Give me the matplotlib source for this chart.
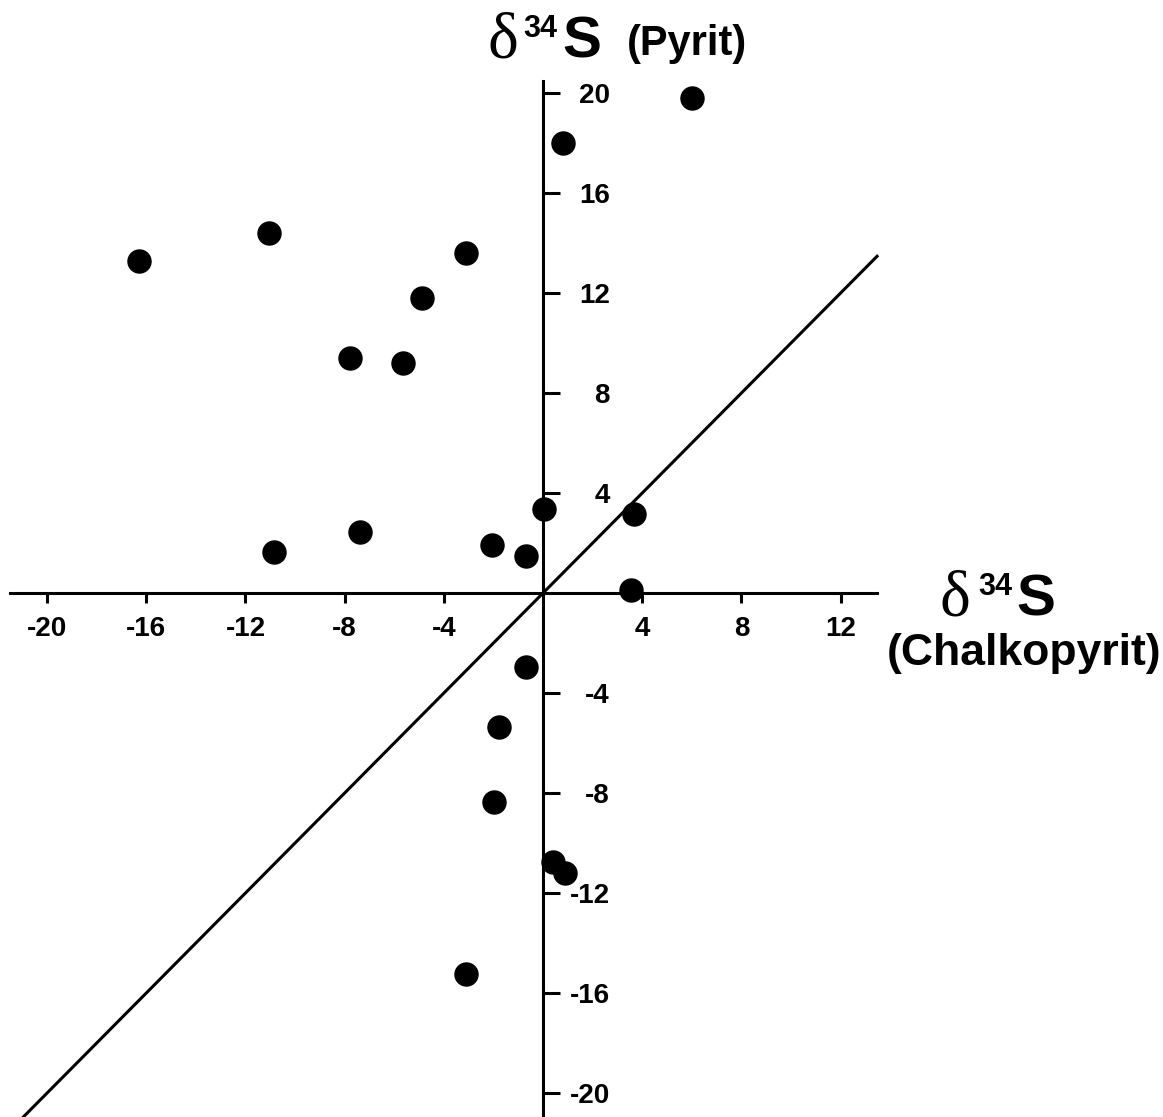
"""δ34S Pyrit gegen Chalkopyrit - Streudiagramm"""
import matplotlib
matplotlib.use('Agg')
import matplotlib.pyplot as plt

plt.rcParams['font.family'] = ['Liberation Sans', 'DejaVu Sans']

# Messwerte (δ34S Chalkopyrit, δ34S Pyrit)
chalkopyrit = [6.0, 0.8, -16.3, -11.05, -3.1, -4.9, -7.8, -5.65, 0.05, 3.67, -10.85,
               -7.4, -2.06, -0.7, 3.55, -0.7, -1.77, -1.98, 0.4, 0.9, -3.1]
pyrit = [19.8, 18.0, 13.3, 14.4, 13.6, 11.8, 9.4, 9.2, 3.36, 3.16, 1.64,
         2.44, 1.92, 1.48, 0.12, -2.96, -5.36, -8.36, -10.76, -11.2, -15.24]

x_ticks = [-20, -16, -12, -8, -4, 4, 8, 12]
y_ticks = [-20, -16, -12, -8, -4, 4, 8, 12, 16, 20]

W, H = 1163, 1117
fig = plt.figure(figsize=(W / 100, H / 100), dpi=100)
ax = fig.add_axes([0, 0, 1, 1])
ax.set_xlim(-21.9, 25.0)
ax.set_ylim(-20.96, 23.72)

# Achsen durch den Nullpunkt
ax.spines['left'].set_visible(False)
ax.spines['top'].set_visible(False)
ax.spines['right'].set_position(('data', 0))
ax.spines['bottom'].set_position(('data', 0))
ax.spines['right'].set_bounds(-21, 20.5)
ax.spines['bottom'].set_bounds(-21.5, 13.47)
for s in ('right', 'bottom'):
    ax.spines[s].set_linewidth(2.2)
ax.yaxis.tick_right()
ax.set_xticks(x_ticks)
ax.set_yticks(y_ticks)
ax.set_xticklabels([str(v) for v in x_ticks])
ax.set_yticklabels([str(v) for v in y_ticks])
ax.tick_params(axis='x', direction='out', length=7.5, width=2.2, pad=9,
               labelsize=20)
ax.tick_params(axis='y', direction='out', length=12, width=2.2, pad=36,
               labelsize=20)
for lbl in ax.get_xticklabels() + ax.get_yticklabels():
    lbl.set_fontweight('bold')
for lbl in ax.get_yticklabels():
    lbl.set_horizontalalignment('right')

# 1:1-Linie
diag = [-22, 13.47]
ax.plot(diag, diag, color='black', linewidth=2.2, clip_on=True)

ax.scatter(chalkopyrit, pyrit, s=275, color='black', zorder=3, clip_on=False)


def fig_text(px, py, s, **kw):
    fig.text(px / W, 1 - py / H, s, ha='left', va='baseline', **kw)


serif = ['Liberation Serif', 'DejaVu Serif']

# Achsentitel oben
fig_text(487, 57, 'δ', family=serif, fontsize=47)
fig_text(523, 37, '34', fontsize=22, fontweight='bold')
fig_text(562, 57, 'S', fontsize=42, fontweight='bold')
fig_text(627, 55, '(Pyrit)', fontsize=30, fontweight='bold')

# Achsentitel rechts
fig_text(940, 615, 'δ', family=serif, fontsize=47)
fig_text(978, 595, '34', fontsize=22, fontweight='bold')
fig_text(1016, 615, 'S', fontsize=42, fontweight='bold')
fig_text(887, 665, '(Chalkopyrit)', fontsize=32, fontweight='bold')

fig.savefig('out.png', dpi=100, facecolor='white')
plt.close(fig)
